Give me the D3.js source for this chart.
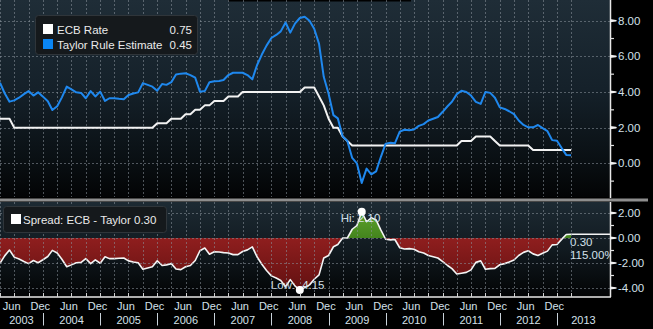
<!DOCTYPE html>
<html>
<head>
<meta charset="utf-8">
<script src="https://cdn.jsdelivr.net/npm/d3@7"></script>
<style>
  html, body { margin: 0; padding: 0; background: #000; }
  svg { display: block; }
  text { font-family: "Liberation Sans", Arial, sans-serif; }
</style>
</head>
<body>
<svg id="chart" width="653" height="329"></svg>
<script>
// Monthly observations, April 2003 to April 2013 (first of each month)
const firstMonth = new Date(2003, 3, 1);
const endMonth = new Date(2013, 4, 1);

// ECB main refinancing rate (%)
const ecbRate = [
  2.50, 2.50, 2.50,
  2.00, 2.00, 2.00, 2.00, 2.00, 2.00,
  2.00, 2.00, 2.00, 2.00, 2.00, 2.00, 2.00, 2.00, 2.00, 2.00, 2.00, 2.00,
  2.00, 2.00, 2.00, 2.00, 2.00, 2.00, 2.00, 2.00, 2.00, 2.00, 2.00, 2.00,
  2.25, 2.25, 2.25, 2.50, 2.50, 2.50, 2.75, 2.75, 3.00, 3.00, 3.25, 3.25,
  3.50, 3.50, 3.50, 3.75, 3.75, 3.75, 4.00, 4.00, 4.00, 4.00, 4.00, 4.00,
  4.00, 4.00, 4.00, 4.00, 4.00, 4.00, 4.00, 4.25, 4.25, 4.25, 3.75, 3.25,
  2.50, 2.00, 2.00, 1.50, 1.25, 1.00, 1.00, 1.00, 1.00, 1.00, 1.00, 1.00,
  1.00, 1.00, 1.00, 1.00, 1.00, 1.00, 1.00, 1.00, 1.00, 1.00, 1.00, 1.00,
  1.00, 1.00, 1.00, 1.00, 1.25, 1.25, 1.25, 1.50, 1.50, 1.50, 1.50, 1.25,
  1.00, 1.00, 1.00, 1.00, 1.00, 1.00, 1.00, 0.75, 0.75, 0.75, 0.75, 0.75,
  0.75, 0.75, 0.75, 0.75
];

// Taylor rule estimate (%)
const taylorEstimate = [
  4.52, 3.93, 3.46,
  3.53, 3.68, 3.88, 4.05, 3.80, 3.98,
  3.74, 3.48, 2.99, 3.20, 3.70, 4.30, 4.15, 3.98, 3.95, 3.65, 4.05, 3.75,
  4.02, 3.50, 3.65, 3.65, 3.62, 3.60, 3.83, 3.92, 3.98, 4.50, 4.40, 4.30,
  4.07, 4.45, 4.40, 4.55, 4.98, 5.03, 5.05, 4.95, 4.80, 4.02, 4.05, 4.55,
  4.60, 4.62, 4.67, 4.95, 5.08, 5.08, 5.08, 4.95, 4.71, 5.50, 6.10, 6.60,
  7.03, 7.20, 7.40, 7.90, 7.33, 7.85, 8.15, 8.22, 8.00, 7.55, 6.70, 4.85,
  3.90, 2.70, 2.52, 1.50, 1.25, 0.30, 0.00, -1.10, -0.30, -0.62, -0.45, 0.35,
  1.10, 1.15, 1.12, 1.78, 1.88, 1.85, 1.90, 2.10, 2.20, 2.40, 2.50, 2.60,
  2.89, 3.20, 3.45, 3.88, 4.07, 4.00, 3.80, 3.45, 3.33, 4.00, 3.95, 3.68,
  3.14, 3.05, 2.92, 2.76, 2.40, 2.15, 2.02, 2.02, 2.15, 1.97, 1.80, 1.30,
  1.27, 0.84, 0.47, 0.45
];

const topTicks = [0, 2, 4, 6, 8];
const topMinorTicks = [-1, 1, 3, 5, 7];
const bottomTicks = [-4, -2, 0, 2];
const bottomMinorTicks = [-3, -1, 1];
const monthLabels = [["Jun", 5], ["Dec", 11]];
const yearLabels = [2003, 2004, 2005, 2006, 2007, 2008, 2009, 2010, 2011, 2012, 2013];
const lastChangeLabel = "115.00%";

const seriesNames = ["ECB Rate", "Taylor Rule Estimate"];
const seriesColors = ["#f2f2f2", "#1f88ee"];

// ---------------------------------------------------------------
const months = d3.timeMonth.range(firstMonth, endMonth);
const data = months.map((d, i) => ({
  date: d,
  ecb: ecbRate[i],
  taylor: taylorEstimate[i],
  spread: +(ecbRate[i] - taylorEstimate[i]).toFixed(2)
}));

const W = 653, H = 329;
const plotRight = 610;
const topPanel = { y0: 0, y1: 197 };
const botPanel = { y0: 202, y1: 296 };

const x = d3.scaleTime()
  .domain([new Date(2003, 0, 1), new Date(2013, 0, 1)])
  .range([-14.1, 557]);
const yTop = d3.scaleLinear().domain([0, 8]).range([163.3, 20.7]);
const yBot = d3.scaleLinear().domain([-4, 2]).range([288, 213]);

const svg = d3.select("#chart");
svg.append("rect").attr("width", W).attr("height", H).attr("fill", "#000");

const defs = svg.append("defs");
function vGrad(id, y1, y2, stops) {
  const g = defs.append("linearGradient").attr("id", id)
    .attr("gradientUnits", "userSpaceOnUse")
    .attr("x1", 0).attr("x2", 0).attr("y1", y1).attr("y2", y2);
  stops.forEach(([o, c]) => g.append("stop").attr("offset", o).attr("stop-color", c));
}
vGrad("bgTop", topPanel.y0, topPanel.y1,
  [[0, "#1f2d37"], [0.45, "#15212a"], [0.8, "#0a1014"], [1, "#030405"]]);
vGrad("bgBot", botPanel.y0, botPanel.y1,
  [[0, "#1d2a33"], [0.5, "#111a20"], [1, "#030405"]]);
vGrad("redFill", yBot(0), yBot(-4.2), [[0, "#8f1e1e"], [1, "#621111"]]);
vGrad("greenFill", yBot(2.2), yBot(0), [[0, "#5ea42c"], [1, "#44841e"]]);

defs.append("clipPath").attr("id", "clipTop").append("rect")
  .attr("x", 0).attr("y", topPanel.y0).attr("width", plotRight).attr("height", topPanel.y1 - topPanel.y0);
defs.append("clipPath").attr("id", "clipBot").append("rect")
  .attr("x", 0).attr("y", botPanel.y0).attr("width", plotRight).attr("height", botPanel.y1 - botPanel.y0);
defs.append("clipPath").attr("id", "clipPos").append("rect")
  .attr("x", 0).attr("y", botPanel.y0).attr("width", plotRight).attr("height", yBot(0) - botPanel.y0);
defs.append("clipPath").attr("id", "clipNeg").append("rect")
  .attr("x", 0).attr("y", yBot(0)).attr("width", plotRight).attr("height", botPanel.y1 - yBot(0));

// panel backgrounds
svg.append("rect").attr("x", 0).attr("y", topPanel.y0).attr("width", plotRight)
  .attr("height", topPanel.y1 - topPanel.y0).attr("fill", "url(#bgTop)");
svg.append("rect").attr("x", 0).attr("y", botPanel.y0).attr("width", plotRight)
  .attr("height", botPanel.y1 - botPanel.y0).attr("fill", "url(#bgBot)");
svg.append("rect").attr("x", 228).attr("y", 0).attr("width", 183).attr("height", 1.5).attr("fill", "#000");

// quarterly vertical grid
const quarterTicks = d3.timeMonth.every(3).range(firstMonth, new Date(2013, 6, 1));
const gridStyle = sel => sel.attr("stroke", "#8a949c").attr("stroke-opacity", 0.55)
  .attr("stroke-width", 1).attr("stroke-dasharray", "2,2");

function drawGrid(panel, yScale, ticks) {
  const g = svg.append("g").attr("clip-path", `url(#${panel === topPanel ? "clipTop" : "clipBot"})`);
  g.selectAll("line.v").data(quarterTicks).join("line")
    .attr("x1", d => Math.round(x(d)) + 0.5).attr("x2", d => Math.round(x(d)) + 0.5)
    .attr("y1", panel.y0).attr("y2", panel.y1).call(gridStyle);
  g.selectAll("line.h").data(ticks).join("line")
    .attr("x1", 0).attr("x2", plotRight)
    .attr("y1", d => Math.round(yScale(d)) + 0.5).attr("y2", d => Math.round(yScale(d)) + 0.5)
    .call(gridStyle);
  return g;
}

// ---- top panel: rates
drawGrid(topPanel, yTop, topTicks);
const topG = svg.append("g").attr("clip-path", "url(#clipTop)");
["ecb", "taylor"].forEach((key, i) => {
  topG.append("path").datum(data)
    .attr("fill", "none").attr("stroke", seriesColors[i]).attr("stroke-width", 2)
    .attr("stroke-linejoin", "round")
    .attr("d", d3.line().x(d => x(d.date)).y(d => yTop(d[key])));
});

// ---- bottom panel: spread
const botG = svg.append("g").attr("clip-path", "url(#clipBot)");
const spreadArea = d3.area().x(d => x(d.date)).y0(yBot(0)).y1(d => yBot(d.spread));
botG.append("path").datum(data).attr("fill", "url(#redFill)")
  .attr("clip-path", "url(#clipNeg)").attr("d", spreadArea);
botG.append("path").datum(data).attr("fill", "url(#greenFill)")
  .attr("clip-path", "url(#clipPos)").attr("d", spreadArea);
drawGrid(botPanel, yBot, bottomTicks);
const last = data[data.length - 1];
botG.append("path").datum(data)
  .attr("fill", "none").attr("stroke", "#f4f4f4").attr("stroke-width", 1.6)
  .attr("stroke-linejoin", "round")
  .attr("d", d3.line().x(d => x(d.date)).y(d => yBot(d.spread)));
botG.append("line")
  .attr("x1", x(last.date)).attr("x2", plotRight)
  .attr("y1", yBot(last.spread)).attr("y2", yBot(last.spread))
  .attr("stroke", "#f4f4f4").attr("stroke-width", 1.4);

const labelColor = "#d4e0ea";
botG.append("text").attr("x", x(last.date) - 1).attr("y", yBot(last.spread) + 12)
  .attr("fill", labelColor).attr("font-size", 11.5).text(last.spread.toFixed(2));
botG.append("text").attr("x", x(last.date) - 1).attr("y", yBot(last.spread) + 25)
  .attr("fill", labelColor).attr("font-size", 11.5).text(lastChangeLabel);

// high / low markers
const hi = data.reduce((a, b) => (b.spread > a.spread ? b : a));
const lo = data.reduce((a, b) => (b.spread < a.spread ? b : a));
botG.append("text").attr("x", x(hi.date) - 21).attr("y", yBot(hi.spread) + 10)
  .attr("fill", labelColor).attr("font-size", 11.5).text("Hi: " + hi.spread.toFixed(2));
botG.append("text").attr("x", x(lo.date) - 29).attr("y", yBot(lo.spread) - 0.5)
  .attr("fill", labelColor).attr("font-size", 11.5).text("Low: " + lo.spread.toFixed(2));
[hi, lo].forEach(d => {
  svg.append("circle").attr("cx", x(d.date)).attr("cy", yBot(d.spread))
    .attr("r", 4).attr("fill", "#ffffff");
});

// separator between panels
svg.append("rect").attr("x", 0).attr("y", 198.5).attr("width", 648).attr("height", 3)
  .attr("fill", "#8e8e8e");

// ---- right axes
function rightAxis(yScale, ticks, minor, panel) {
  const g = svg.append("g");
  g.append("line").attr("x1", plotRight + 0.5).attr("x2", plotRight + 0.5)
    .attr("y1", panel.y0).attr("y2", panel.y1 + 1)
    .attr("stroke", "#e8e8e8").attr("stroke-width", 1.5);
  g.selectAll("path.tick").data(ticks).join("path")
    .attr("d", d => {
      const yy = yScale(d);
      return `M${plotRight},${yy - 1.6}L${plotRight + 6},${yy - 0.8}L${plotRight + 7},${yy}L${plotRight + 6},${yy + 0.8}L${plotRight},${yy + 1.6}Z`;
    })
    .attr("fill", "#f0f0f0");
  g.selectAll("line.minor").data(minor).join("line")
    .attr("x1", plotRight).attr("x2", plotRight + 4)
    .attr("y1", d => yScale(d)).attr("y2", d => yScale(d))
    .attr("stroke", "#e0e0e0").attr("stroke-width", 1.2);
  g.selectAll("text").data(ticks).join("text")
    .attr("x", plotRight + 8).attr("y", d => yScale(d) + 4)
    .attr("fill", labelColor).attr("font-size", 11.5)
    .text(d => d.toFixed(2));
}
rightAxis(yTop, topTicks, topMinorTicks, topPanel);
rightAxis(yBot, bottomTicks, bottomMinorTicks, botPanel);

// ---- bottom time axis
svg.append("line").attr("x1", 0).attr("x2", plotRight + 1)
  .attr("y1", 297).attr("y2", 297).attr("stroke", "#e8e8e8").attr("stroke-width", 1.5);
svg.selectAll("line.xtick").data(quarterTicks.filter(d => x(d) < plotRight)).join("line")
  .attr("x1", d => Math.round(x(d)) + 0.5).attr("x2", d => Math.round(x(d)) + 0.5)
  .attr("y1", 293).attr("y2", 297).attr("stroke", "#d0d0d0").attr("stroke-width", 1);

const monthMarks = [];
yearLabels.forEach(yr => monthLabels.forEach(([name, mi]) => {
  const d = new Date(yr, mi, 15);
  if (d >= firstMonth && d < new Date(2013, 0, 1)) monthMarks.push({ name, d });
}));
svg.selectAll("text.month").data(monthMarks).join("text")
  .attr("x", d => x(d.d)).attr("y", 309.5).attr("text-anchor", "middle")
  .attr("fill", labelColor).attr("font-size", 11).text(d => d.name);

svg.selectAll("text.year").data(yearLabels).join("text")
  .attr("x", yr => {
    const a = Math.max(0, x(new Date(yr, 0, 1)));
    const b = Math.min(plotRight, x(new Date(yr + 1, 0, 1)));
    return (a + b) / 2;
  })
  .attr("y", 323.5).attr("text-anchor", "middle")
  .attr("fill", labelColor).attr("font-size", 11).text(yr => yr);

svg.selectAll("line.yearsep").data(yearLabels.slice(1)).join("line")
  .attr("x1", yr => Math.round(x(new Date(yr, 0, 1))) + 0.5)
  .attr("x2", yr => Math.round(x(new Date(yr, 0, 1))) + 0.5)
  .attr("y1", 313).attr("y2", 325.5).attr("stroke", "#c8d2da").attr("stroke-width", 1);

// ---- legends
const legendFill = "#15191c", legendStroke = "#2f353a";
const topLegend = svg.append("g");
topLegend.append("rect").attr("x", 35.5).attr("y", 15.5).attr("width", 162).attr("height", 39)
  .attr("rx", 3).attr("fill", legendFill).attr("stroke", legendStroke);
const lastRow = data[data.length - 1];
[lastRow.ecb, lastRow.taylor].forEach((v, i) => {
  const yy = 24 + i * 15;
  topLegend.append("rect").attr("x", 43).attr("y", yy).attr("width", 10).attr("height", 10)
    .attr("fill", i === 0 ? "#ffffff" : "#0a86f5");
  topLegend.append("text").attr("x", 57).attr("y", yy + 9.5)
    .attr("fill", "#eaeaea").attr("font-size", 11.5).text(seriesNames[i]);
  topLegend.append("text").attr("x", 192).attr("y", yy + 9.5).attr("text-anchor", "end")
    .attr("fill", "#eaeaea").attr("font-size", 11.5).text(v.toFixed(2));
});

const botLegend = svg.append("g");
botLegend.append("rect").attr("x", 3.5).attr("y", 206.5).attr("width", 163).attr("height", 26)
  .attr("rx", 3).attr("fill", legendFill).attr("stroke", legendStroke);
botLegend.append("rect").attr("x", 11).attr("y", 214).attr("width", 10).attr("height", 10)
  .attr("fill", "#ffffff");
botLegend.append("text").attr("x", 23).attr("y", 223.5)
  .attr("fill", "#eaeaea").attr("font-size", 11.5)
  .text("Spread: ECB - Taylor " + last.spread.toFixed(2));
</script>
</body>
</html>
